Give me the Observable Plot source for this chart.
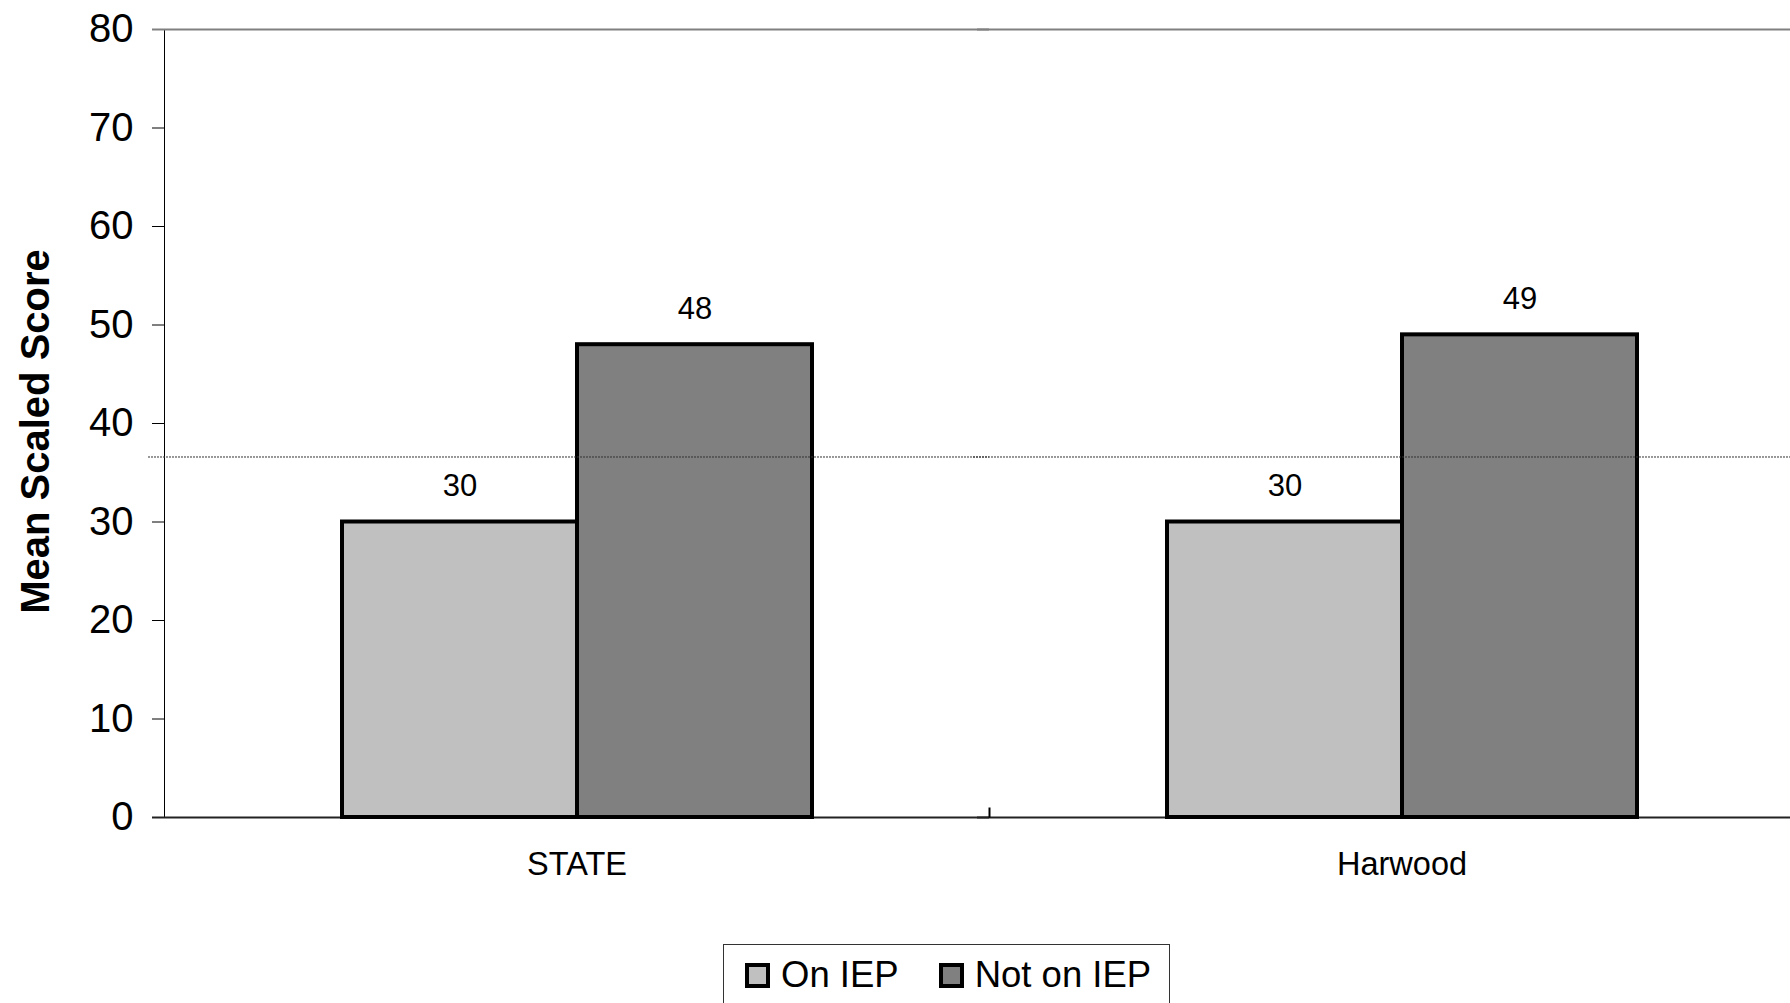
<!DOCTYPE html>
<html>
<head>
<meta charset="utf-8">
<script src="https://cdn.jsdelivr.net/npm/d3@7"></script>
<script src="https://cdn.jsdelivr.net/npm/@observablehq/plot@0.6"></script>
<style>
  html, body { margin: 0; padding: 0; background: #fff; overflow: hidden; }
  #wrap { position: relative; width: 1790px; height: 1003px; overflow: hidden; font-family: "Liberation Sans", Arial, sans-serif; }
  #chart svg { max-width: none !important; height: 900px !important; width: 1814px !important; }
  #chart svg [aria-label^="y-axis"] text { font-size: 40px; fill: #000; }
  #legend { position: absolute; left: 723px; top: 944px; width: 447px; height: 62px; border: 1px solid #333; box-sizing: border-box; display: flex; align-items: center; padding-left: 21px; font-family: "Liberation Sans", Arial, sans-serif; font-size: 36.5px; color: #000; }
  .item { display: flex; align-items: center; }
  .sw { width: 25px; height: 25px; box-sizing: border-box; border: 4px solid #000; margin-right: 11px; margin-top: 1px; }
</style>
</head>
<body>
<div id="wrap">
  <div id="chart"></div>
  <div id="legend"></div>
</div>
<script>
const categories = ["STATE", "Harwood"];
const series = ["On IEP", "Not on IEP"];
const onIEP = [30, 30];
const notOnIEP = [48, 49];
const referenceLine = 36.6;
const yTicks = [0, 10, 20, 30, 40, 50, 60, 70, 80];
const colors = ["#C0C0C0", "#808080"];
const yLabel = "Mean Scaled Score";

const table = [];
categories.forEach((c, i) => {
  table.push({category: c, series: series[0], value: onIEP[i]});
  table.push({category: c, series: series[1], value: notOnIEP[i]});
});

const tickUp = { draw(ctx, size) { const r = Math.sqrt(size / Math.PI); ctx.moveTo(0, 0); ctx.lineTo(0, -r); } };

const chart = Plot.plot({
  width: 1814,
  height: 900,
  marginLeft: 164,
  marginRight: 0,
  marginTop: 29,
  marginBottom: 83,
  style: { fontFamily: "Liberation Sans, Arial, sans-serif", color: "#000", background: "#fff", overflow: "visible", maxWidth: "none" },
  fx: { domain: categories, padding: 0, axis: null },
  x: { domain: series, paddingInner: 0, paddingOuter: 0.748, align: 0.5, axis: null },
  y: { domain: [0, 80], ticks: yTicks, tickSize: 12, tickPadding: 19, line: true, label: yLabel, labelAnchor: "center", labelOffset: 150 },
  color: { domain: series, range: colors },
  marks: [
    Plot.ruleY([80], { stroke: "#808080", strokeWidth: 2, insetLeft: -12 }),
    Plot.ruleY([0], { stroke: "#222", strokeWidth: 2, insetLeft: -12 }),
    Plot.barY(table, { fx: "category", x: "series", y: "value", fill: "series", stroke: "#000", strokeWidth: 4 }),
    Plot.ruleY([referenceLine], { stroke: "#333", strokeWidth: 1, strokeDasharray: "2,1", insetLeft: -16 }),
    Plot.text(table, { fx: "category", x: "series", y: "value", text: d => String(d.value), dy: -36, fontSize: 31, fill: "#000" }),
    Plot.text(categories, { fx: d => d, text: d => d, frameAnchor: "bottom", dy: 57, fontSize: 32.5, fill: "#000" }),
    Plot.dot([categories[1]], { fx: d => d, frameAnchor: "bottom-left", r: 10, symbol: tickUp, stroke: "#000", strokeWidth: 2, fill: "none" })
  ]
});
document.getElementById("chart").appendChild(chart);

d3.select(chart).selectAll("text").filter(function () { return this.textContent.trim().startsWith(yLabel); })
  .each(function () {
    const tspans = this.querySelectorAll("tspan");
    if (tspans.length) { tspans.forEach((t, i) => { if (i > 0) t.remove(); }); tspans[0].textContent = yLabel; }
    else this.textContent = yLabel;
    const t = this.getAttribute("transform") || "";
    this.setAttribute("transform", "translate(6,8) " + t);
  })
  .style("font-size", "40px").style("font-weight", "bold").style("fill", "#000");

const legend = d3.select("#legend");
series.forEach((s, i) => {
  const it = legend.append("div").attr("class", "item").style("margin-right", i === 0 ? "40px" : "0");
  it.append("div").attr("class", "sw").style("background", colors[i]);
  it.append("span").text(s);
});
</script>
</body>
</html>
